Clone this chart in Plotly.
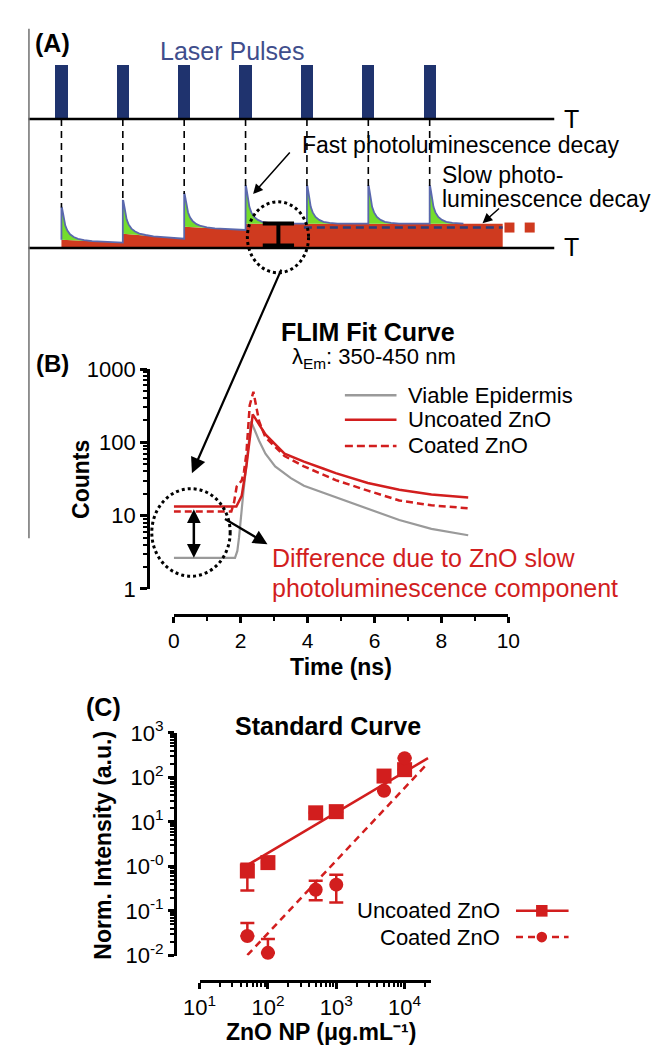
import plotly.graph_objects as go

W, H = 658, 1059
FONT = "Liberation Sans"
RED = "#d21e1e"
GRAY = "#9a9a9a"
AREA_RED = "#cf3a1f"
GREEN = "#74dd2c"
NAVY = "#1f336e"
BLUE_LINE = "#5a68ad"

# ---------------- Panel A : schematic values ----------------
pulse_t = [0, 1, 2, 3, 4, 5, 6]               # laser pulse times (pulse periods)
pulse_h = [56, 56, 56, 56, 56, 56, 56]        # pulse heights
peak_lvl = [41.5, 48.5, 55.5, 63.5, 63.5, 63.5, 63.5]   # fast decay peaks
slow_start = [8.5, 14.5, 21.8, 25, 25, 25, 25]           # slow level after each pulse
slow_end = [5.5, 9.5, 18.5, 25, 25, 25, 25]              # slow level before next pulse
slow_stop_t = 7.19
fast_dt = [0, 0.008, 0.03, 0.062, 0.094, 0.14, 0.2, 0.27, 0.37, 0.5]
fast_frac = [1.0, 1.0, 0.78, 0.45, 0.3, 0.18, 0.1, 0.05, 0.02, 0.0]
slow_dash_t = [3.95, 7.19]
slow_dash_v = [21, 21]
more_t = [7.30, 7.63]
more_v = [21, 21]
axis_span_t = [-0.537, 8.03]
top_axis_v = 132.5

# ---------------- Panel B : FLIM fit curves ----------------
ve_t = [0, 1.83, 1.9, 1.95, 2.08, 2.31, 2.55, 2.74, 3.03, 3.5, 3.89, 4.46, 4.84, 5.8, 6.74, 7.7, 8.8]
ve_c = [2.65, 2.65, 3.3, 5.0, 20.6, 193, 105, 70, 47, 32.5, 25.5, 20.5, 17.8, 12.3, 8.7, 6.6, 5.4]
un_t = [0, 1.87, 2.03, 2.17, 2.36, 2.5, 2.74, 3.31, 3.89, 4.46, 4.84, 5.8, 6.74, 7.7, 8.8]
un_c = [13.3, 13.3, 18.6, 47, 241, 193, 128, 70, 54.6, 44, 38, 27.9, 22.5, 19.4, 17.7]
co_t = [0, 1.72, 1.8, 1.88, 2.03, 2.1, 2.17, 2.27, 2.38, 2.46, 2.55, 2.74, 3.31, 3.89, 4.46, 4.84, 5.8, 6.74, 7.7, 8.8]
co_c = [11.4, 11.4, 15, 25, 30, 40, 70, 320, 490, 320, 194, 117, 65, 47, 36, 30.5, 21.9, 16.1, 13.8, 12.6]

# ---------------- Panel C : standard curve ----------------
conc = [50, 100, 500, 1000, 5000, 10000]
unc_y = [0.79, 1.22, 16, 17, 107, 149]
unc_ep = [0.36, 0, 0, 0, 0, 0]
unc_em = [0.50, 0, 0, 0, 0, 0]
coat_y = [0.0275, 0.0115, 0.30, 0.39, 50, 270]
coat_ep = [0.0265, 0.0119, 0.18, 0.26, 0, 0]
coat_em = [0, 0, 0.125, 0.235, 0, 0]
fit_x = [50, 22000]
fit_unc = [1.07, 270]
fit_coat = [0.0102, 210]


def px(x):
    return x / W


def py(y):
    return 1 - y / H


fig = go.Figure()

# ===== Panel A traces (axes x3/y3) =====
A = dict(xaxis="x3", yaxis="y3", showlegend=False, hoverinfo="skip")

# red slow-decay area
rx, ry = [pulse_t[0]], [0]
for k, t in enumerate(pulse_t):
    t_next = pulse_t[k + 1] if k + 1 < len(pulse_t) else slow_stop_t
    rx += [t, t_next]
    ry += [slow_start[k], slow_end[k]]
rx += [slow_stop_t, pulse_t[0]]
ry += [0, 0]
fig.add_trace(go.Scatter(x=rx, y=ry, mode="lines", fill="toself", fillcolor=AREA_RED,
                         line=dict(color=AREA_RED, width=0), **A))

# green fast decays + blue outline
bx, by = [], []
for k, t in enumerate(pulse_t):
    t_next = pulse_t[k + 1] if k + 1 < len(pulse_t) else t + 0.55
    seg_len = (pulse_t[k + 1] - t) if k + 1 < len(pulse_t) else (slow_stop_t - t)

    def red_at(tt, k=k, t=t, seg_len=seg_len):
        return slow_start[k] + (slow_end[k] - slow_start[k]) * (tt - t) / seg_len

    cx = [t] + [t + d for d in fast_dt]
    cy = [slow_start[k]] + [red_at(t + d) + f * (peak_lvl[k] - slow_start[k])
                            for d, f in zip(fast_dt, fast_frac)]
    gx = cx + [t]
    gy = cy + [slow_start[k]]
    fig.add_trace(go.Scatter(x=gx, y=gy, mode="lines", fill="toself", fillcolor=GREEN,
                             line=dict(color=GREEN, width=0), **A))
    bx += cx + [t_next]
    by += cy + [red_at(t_next)]
fig.add_trace(go.Scatter(x=bx, y=by, mode="lines", line=dict(color=BLUE_LINE, width=1.8), **A))

# dashed line showing slow decay
fig.add_trace(go.Scatter(x=slow_dash_t, y=slow_dash_v, mode="lines",
                         line=dict(color="#2c3e7c", width=2.5, dash="8px,5px"), **A))
# continuation squares
fig.add_trace(go.Scatter(x=more_t, y=more_v, mode="markers",
                         marker=dict(symbol="square", size=10, color=AREA_RED), **A))

# dashed guides from pulses to peaks
vx, vy = [], []
for t, p in zip(pulse_t, peak_lvl):
    vx += [t, t, None]
    vy += [top_axis_v, p, None]
fig.add_trace(go.Scatter(x=vx, y=vy, mode="lines",
                         line=dict(color="black", width=1.6, dash="7px,5px"), **A))

# laser pulses
fig.add_trace(go.Bar(x=pulse_t, y=pulse_h, base=top_axis_v, width=0.2,
                     marker=dict(color=NAVY, line=dict(width=0)), **A))

# time axes
fig.add_trace(go.Scatter(x=axis_span_t + [None] + axis_span_t,
                         y=[top_axis_v, top_axis_v, None, 0, 0], mode="lines",
                         line=dict(color="black", width=2.5), **A))

# I-beam (difference marker)
fig.add_trace(go.Scatter(x=[3.28, 3.79, None, 3.535, 3.535, None, 3.28, 3.79],
                         y=[25.2, 25.2, None, 25.2, 2.5, None, 2.5, 2.5], mode="lines",
                         line=dict(color="black", width=4), **A))

# ===== Panel B traces =====
fig.add_trace(go.Scatter(x=ve_t, y=ve_c, mode="lines", line=dict(color=GRAY, width=2.2),
                         showlegend=False, xaxis="x", yaxis="y"))
fig.add_trace(go.Scatter(x=co_t, y=co_c, mode="lines", line=dict(color=RED, width=2.5, dash="7px,4px"),
                         showlegend=False, xaxis="x", yaxis="y"))
fig.add_trace(go.Scatter(x=un_t, y=un_c, mode="lines", line=dict(color=RED, width=2.5),
                         showlegend=False, xaxis="x", yaxis="y"))

# ===== Panel C traces =====
fig.add_trace(go.Scatter(x=fit_x, y=fit_unc, mode="lines", line=dict(color=RED, width=2.5),
                         showlegend=False, xaxis="x2", yaxis="y2"))
fig.add_trace(go.Scatter(x=fit_x, y=fit_coat, mode="lines", line=dict(color=RED, width=2.5, dash="7px,5px"),
                         showlegend=False, xaxis="x2", yaxis="y2"))
fig.add_trace(go.Scatter(x=conc, y=unc_y, mode="markers", cliponaxis=False,
                         marker=dict(symbol="square", size=15, color=RED),
                         error_y=dict(type="data", symmetric=False, array=unc_ep, arrayminus=unc_em,
                                      color=RED, thickness=2.5, width=7),
                         showlegend=False, xaxis="x2", yaxis="y2"))
fig.add_trace(go.Scatter(x=conc, y=coat_y, mode="markers", cliponaxis=False,
                         marker=dict(symbol="circle", size=14, color=RED),
                         error_y=dict(type="data", symmetric=False, array=coat_ep, arrayminus=coat_em,
                                      color=RED, thickness=2.5, width=7),
                         showlegend=False, xaxis="x2", yaxis="y2"))


def minor_log(lo, hi):
    out = []
    for e in range(lo, hi):
        for d in range(2, 10):
            out.append(d * 10 ** e)
    return out


axis_common = dict(showline=True, linecolor="black", linewidth=2.5, ticks="outside",
                   tickcolor="black", tickwidth=2.5, ticklen=7, showgrid=False, zeroline=False,
                   tickfont=dict(family=FONT, size=22, color="black"), fixedrange=True)
minor_common = dict(ticks="outside", ticklen=4, tickwidth=2, tickcolor="black", showgrid=False)

fig.update_layout(
    width=W, height=H, margin=dict(l=0, r=0, t=0, b=0),
    paper_bgcolor="white", plot_bgcolor="rgba(0,0,0,0)",
    font=dict(family=FONT, color="black"),
    bargap=0,
    xaxis=dict(domain=[px(164), px(514)], range=[0, 10], anchor="free", position=py(616),
               tickmode="linear", tick0=0, dtick=2,
               minor=dict(dtick=1, tick0=0, **minor_common),
               **{**axis_common, "ticklen": 6, "tickfont": dict(family=FONT, size=21, color="black")}),
    yaxis=dict(domain=[py(589), py(363)], type="log", range=[0, 3], anchor="free", position=px(137),
               tickmode="array", tickvals=[1, 10, 100, 1000], ticktext=["1", "10", "100", "1000"],
               minor=dict(tickmode="array", tickvals=minor_log(0, 3), **minor_common),
               **axis_common),
    xaxis2=dict(domain=[px(191), px(433)], type="log", range=[1, 4.385], anchor="free", position=py(992),
                tickmode="array", tickvals=[10, 100, 1000, 10000],
                ticktext=["10<sup>1</sup>", "10<sup>2</sup>", "10<sup>3</sup>", "10<sup>4</sup>"],
                minor=dict(tickmode="array", tickvals=minor_log(1, 4) + [20000], **minor_common),
                **{**axis_common, "ticklen": 6}),
    yaxis2=dict(domain=[py(966), py(737)], type="log", range=[-2, 3], anchor="free", position=px(165),
                tickmode="array", tickvals=[0.01, 0.1, 1, 10, 100, 1000],
                ticktext=["10<sup>-2</sup>", "10<sup>-1</sup>", "10<sup>-0</sup>", "10<sup>1</sup>",
                          "10<sup>2</sup>", "10<sup>3</sup>"],
                minor=dict(tickmode="array", tickvals=minor_log(-2, 3), **minor_common),
                **{**axis_common, "ticklen": 6}),
    xaxis3=dict(domain=[0, 1], range=[-46.5 / 64.2, (W - 46.5) / 64.2], visible=False,
                fixedrange=True, anchor="y3"),
    yaxis3=dict(domain=[py(260), 1], range=[-21.5, 238.5], visible=False, fixedrange=True,
                anchor="x3"),
)

# ===== text annotations =====
annotations = []


def txt(text, x, y, size, bold=False, color="black", xanchor="center", angle=0, yanchor="middle"):
    annotations.append(dict(
        text=("<b>%s</b>" % text) if bold else text, x=px(x), y=py(y), xref="paper", yref="paper",
        xanchor=xanchor, yanchor=yanchor, showarrow=False, textangle=angle,
        font=dict(family=FONT, size=size, color=color)))


def arrow(x_head, y_head, x_tail, y_tail, width=2, size=1.2, both=False):
    annotations.append(dict(
        text="", x=px(x_head), y=py(y_head), xref="paper", yref="paper",
        ax=x_tail - x_head, ay=y_tail - y_head, axref="pixel", ayref="pixel",
        showarrow=True, arrowhead=2, arrowsize=size, arrowwidth=width, arrowcolor="black",
        arrowside="end+start" if both else "end", standoff=0, startstandoff=0))


txt("(A)", 37, 28, 25, bold=True)
txt("Laser Pulses", 225, 36, 25, color="#3f4e8c")
txt("T", 580, 106, 25)
txt("T", 580, 238, 25)
txt("Fast photoluminescence decay", 296, 133, 23, xanchor="left")
txt("Slow photo-", 442, 163, 23, xanchor="left")
txt("luminescence decay", 442, 188, 23, xanchor="left")

txt("(B)", 37, 357, 24, bold=True)
txt("FLIM Fit Curve", 367, 325, 25, bold=True)
txt("λ<sub>Em</sub>: 350-450 nm", 373, 352, 22)
txt("Viable Epidermis", 407, 390, 22, xanchor="left")
txt("Uncoated ZnO", 407, 415, 22, xanchor="left")
txt("Coated ZnO", 407, 442, 22, xanchor="left")
txt("Counts", 67, 477, 23, bold=True, angle=-90)
txt("Time (ns)", 339, 669, 23, bold=True)
txt("Difference due to ZnO slow", 265, 557, 25, color=RED, xanchor="left")
txt("photoluminescence component", 265, 588, 25, color=RED, xanchor="left")

txt("(C)", 90, 710, 25, bold=True)
txt("Standard Curve", 325, 730, 25, bold=True)
txt("Norm. Intensity (a.u.)", 90, 853, 23, bold=True, angle=-90)
txt("ZnO NP (μg.mL⁻¹)", 318, 1045, 23, bold=True)
txt("Uncoated ZnO", 507, 920, 22, xanchor="right")
txt("Coated ZnO", 507, 947, 22, xanchor="right")

arrow(247, 183, 285, 140, width=1.5, size=1.3)
arrow(487, 213, 505, 197, width=1.5, size=1.3)
arrow(183, 470, 273, 265, width=2.2, size=1.4)
arrow(185, 557, 185, 507, width=2.5, size=1.1, both=True)
arrow(262, 543, 218, 517, width=2.2, size=1.3)

fig.update_layout(annotations=annotations)

# ===== shapes: frame line, dotted circles, legend swatches =====
shapes = []


def line_px(x0, y0, x1, y1, color, width, dash="solid"):
    shapes.append(dict(type="line", xref="paper", yref="paper", x0=px(x0), y0=py(y0),
                       x1=px(x1), y1=py(y1), line=dict(color=color, width=width, dash=dash)))


line_px(12.5, 13, 12.5, 537, "#6f6f6f", 1.5)
shapes.append(dict(type="circle", xref="paper", yref="paper", x0=px(241), x1=px(305),
                   y0=py(264), y1=py(191), line=dict(color="black", width=3, dash="dot")))
shapes.append(dict(type="circle", xref="paper", yref="paper", x0=px(141), x1=px(223),
                   y0=py(576), y1=py(486), line=dict(color="black", width=3, dash="dot")))

line_px(343, 390, 397, 390, GRAY, 2.5)
line_px(343, 415, 397, 415, RED, 2.5)
line_px(343, 442, 397, 442, RED, 2.5, dash="8px,4px")

line_px(522, 920, 577, 920, RED, 2.5)
line_px(522, 947, 577, 947, RED, 2.5, dash="7px,5px")
shapes.append(dict(type="rect", xref="paper", yref="paper", x0=px(543), x1=px(555),
                   y0=py(926), y1=py(914), fillcolor=RED, line=dict(width=0)))
shapes.append(dict(type="circle", xref="paper", yref="paper", x0=px(543.5), x1=px(554.5),
                   y0=py(952.5), y1=py(941.5), fillcolor=RED, line=dict(width=0)))

fig.update_layout(shapes=shapes)

fig.write_html("out.html", config=dict(displayModeBar=False),
               post_script="document.body.style.margin='0';document.body.style.overflow='hidden';")
